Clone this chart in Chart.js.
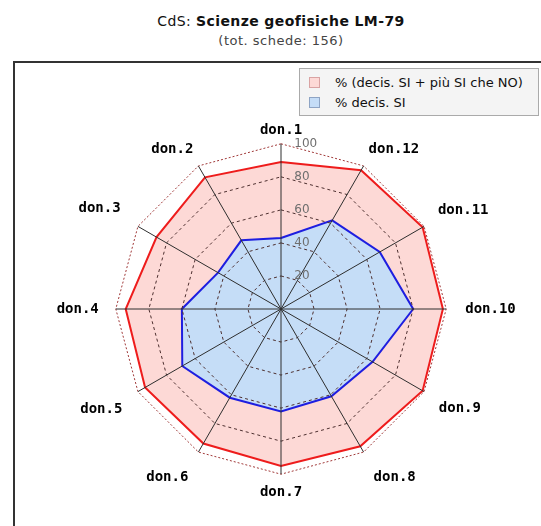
<!DOCTYPE html>
<html>
<head>
<meta charset="utf-8">
<script src="https://cdn.jsdelivr.net/npm/chart.js@4.4.0/dist/chart.umd.min.js"></script>
<style>
  html, body { margin: 0; padding: 0; background: #fff; width: 541px; height: 526px; overflow: hidden; }
  #title { position: absolute; left: 0; width: 562px; top: 13px; text-align: center; font: 14px "DejaVu Sans"; letter-spacing: 0.4px; color: #111; }
  #subtitle { position: absolute; left: 0; width: 562px; top: 33px; text-align: center; font: 13px "DejaVu Sans"; letter-spacing: 0.5px; color: #444; }
  #frame { position: absolute; left: 13px; top: 61px; width: 700px; height: 700px; border-top: 2px solid #333; border-left: 2px solid #333; }
  #chart { position: absolute; left: 10px; top: 120px; }
  #legend { position: absolute; left: 299px; top: 68px; width: 238px; height: 46px; background: #f4f4f4; border: 1px solid #aaa; z-index: 2; font: 13px "DejaVu Sans"; color: #111; }
  .row { position: absolute; left: 9px; height: 15px; line-height: 15px; white-space: nowrap; }
  .sw { display: inline-block; width: 9px; height: 9px; vertical-align: -1px; margin-right: 15px; border: 1px solid; }
</style>
</head>
<body>
<div id="title">CdS: <b>Scienze geofisiche LM-79</b></div>
<div id="subtitle">(tot. schede: 156)</div>
<div id="frame"></div>
<div id="legend"></div>
<canvas id="chart" width="542" height="384"></canvas>
<script>
const categories = ["don.1", "don.2", "don.3", "don.4", "don.5", "don.6",
                    "don.7", "don.8", "don.9", "don.10", "don.11", "don.12"];
const siPiuSi = [89, 92, 87, 94, 95, 94, 95, 96, 99, 98, 99, 97];
const siDecisi = [43, 48, 44, 60, 69, 62, 62, 61, 64, 80, 69, 62];
const tickValues = [0, 20, 40, 60, 80, 100];

// the reference goes counter-clockwise: don.1 on top, don.2 to the left
const order = [0, 11, 10, 9, 8, 7, 6, 5, 4, 3, 2, 1];
const pick = arr => order.map(i => arr[i]);

// label gaps per axis (chart order)
const labelPad = [-3, 2, 8, 11, 9, 12, 2, 12, 10, 9, 12, 2];

const datasets = [
  {
    label: "% (decis. SI + più SI che NO)",
    data: pick(siPiuSi),
    borderColor: "#ee1c1c",
    backgroundColor: "#fdd9d6",
    swatchBorder: "#d9a3a3",
    borderWidth: 2,
    fill: true,
    pointRadius: 0,
    order: 1,
  },
  {
    label: "% decis. SI",
    data: pick(siDecisi),
    borderColor: "#1e1ee0",
    backgroundColor: "#c5ddf7",
    swatchBorder: "#8ea4c4",
    borderWidth: 2,
    fill: true,
    pointRadius: 0,
    order: 0,
  },
];

const legend = document.getElementById("legend");
datasets.forEach((ds, i) => {
  const row = document.createElement("div");
  row.className = "row";
  row.style.top = (6 + i * 20) + "px";
  const sw = document.createElement("span");
  sw.className = "sw";
  sw.style.background = ds.backgroundColor;
  sw.style.borderColor = ds.swatchBorder;
  row.appendChild(sw);
  row.appendChild(document.createTextNode(ds.label));
  legend.appendChild(row);
});

const config = {
  type: "radar",
  data: { labels: pick(categories), datasets: datasets },
  options: {
    responsive: false,
    animation: false,
    plugins: { legend: { display: false }, tooltip: { enabled: false } },
    layout: { padding: 0 },
    elements: { line: { tension: 0 } },
    scales: {
      r: {
        min: tickValues[0],
        max: tickValues[tickValues.length - 1],
        ticks: {
          z: 1,
          stepSize: 20,
          showLabelBackdrop: false,
          color: "#6f6f6f",
          font: { family: "DejaVu Sans", size: 12 },
          callback: v => (String(v).length > 2 ? " ".repeat(13) : " ".repeat(11)) + v,
        },
        // grid and axes over the filled areas, like the original
        grid: { z: 1, circular: false, color: ctx => ctx.index === 5 ? "#a03838" : "#4e3030", lineWidth: 1 },
        border: { dash: ctx => ctx.index === 5 ? [2, 2] : [3, 3] },
        angleLines: { color: "#2e2e2e", lineWidth: 1 },
        pointLabels: {
          color: "#000",
          font: { family: "DejaVu Sans Mono", size: 14, weight: "bold" },
          padding: ctx => labelPad[ctx.index],
        },
      },
    },
  },
};

const myChart = new Chart(document.getElementById("chart"), config);
</script>
</body>
</html>
